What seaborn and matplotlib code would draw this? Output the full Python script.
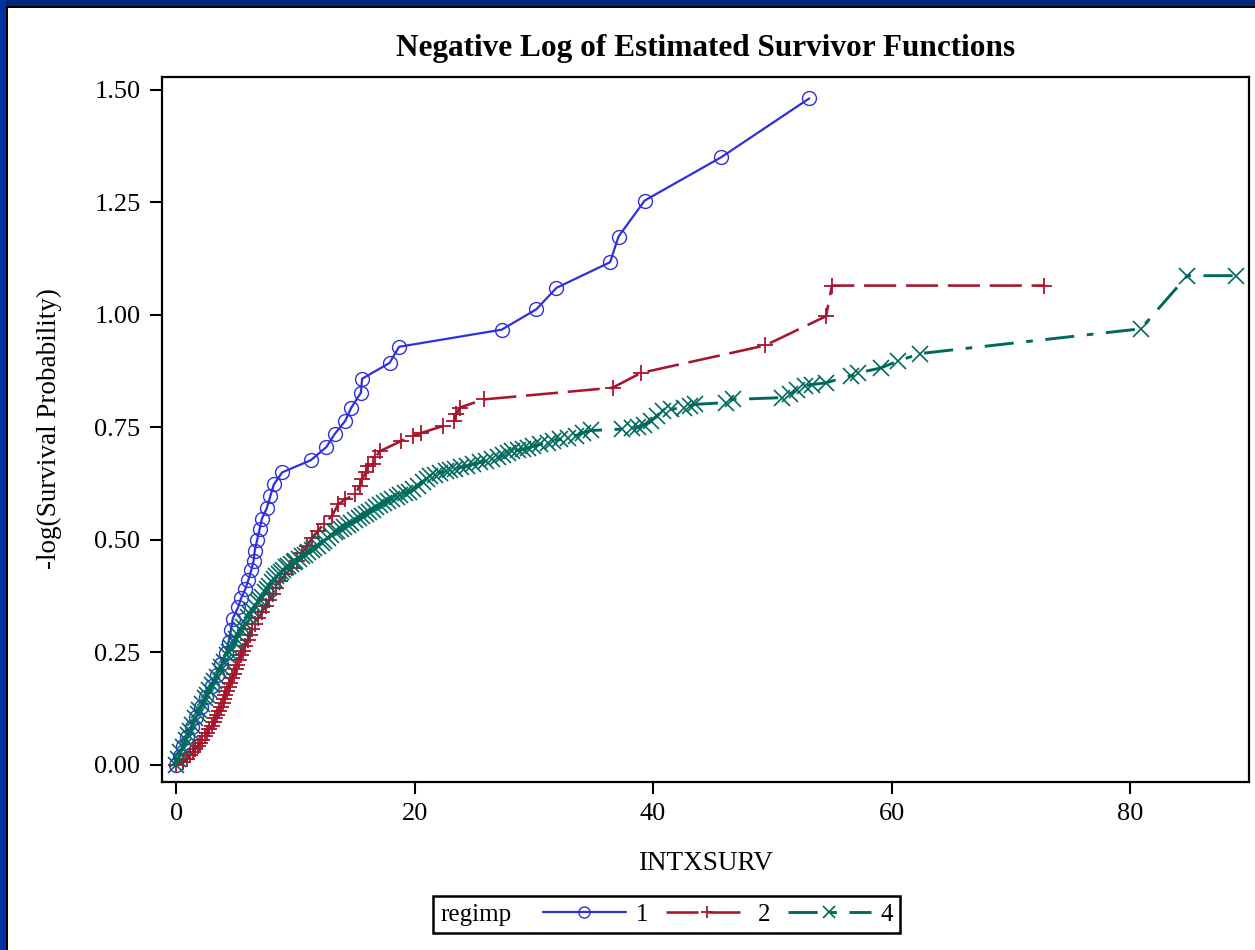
import numpy as np
import pandas as pd
import matplotlib
matplotlib.use("Agg")
import matplotlib.pyplot as plt
import seaborn as sns
from matplotlib.patches import Rectangle
from matplotlib.offsetbox import HPacker
from matplotlib.ticker import FormatStrFormatter

sns.set_style("white")
plt.rcParams['font.family'] = ['Liberation Serif', 'DejaVu Serif']
plt.rcParams['text.color'] = 'black'
plt.rcParams['axes.labelcolor'] = 'black'
plt.rcParams['xtick.color'] = 'black'
plt.rcParams['ytick.color'] = 'black'

# ---------------- data ----------------
groups = ["1", "2", "4"]

x1 = [0.0, 0.3, 0.6, 0.95, 1.3, 1.7, 2.1, 2.5, 3.0, 3.4, 3.8, 4.2, 4.4, 4.6,
      4.75, 5.2, 5.45, 5.8, 6.05, 6.3, 6.5, 6.6, 6.8, 7.0, 7.2, 7.6, 7.9, 8.2,
      8.9, 11.3, 12.6, 13.3, 14.2, 14.7, 15.5, 15.6, 17.9, 18.7, 27.3, 30.2,
      31.9, 36.4, 37.1, 39.3, 45.7, 53.1]
y1 = [0.0, 0.02, 0.041, 0.062, 0.084, 0.106, 0.128, 0.151, 0.175, 0.199, 0.223,
      0.248, 0.273, 0.299, 0.325, 0.35, 0.37, 0.39, 0.41, 0.432, 0.453, 0.476,
      0.50, 0.523, 0.547, 0.57, 0.597, 0.623, 0.65, 0.677, 0.706, 0.735, 0.765,
      0.794, 0.827, 0.858, 0.893, 0.929, 0.967, 1.012, 1.06, 1.117, 1.174, 1.254,
      1.35, 1.481]

x2 = [0.0, 0.6, 0.9, 1.2, 1.4, 1.6, 1.8, 2.0, 2.2, 2.4, 2.6, 2.8, 3.0, 3.15, 3.3,
      3.45, 3.6, 3.75, 3.9, 4.0, 4.1, 4.25, 4.4, 4.55, 4.7, 4.85, 5.0, 5.15, 5.3,
      5.45, 5.6, 5.8, 6.0, 6.2, 6.4, 6.65, 6.9, 7.2, 7.5, 7.8, 8.1, 8.4, 8.7,
      9.15, 9.7, 10.1, 10.55, 11.0, 11.4, 11.9, 12.4, 13.07, 13.6, 14.2, 15.0,
      15.4, 15.6, 15.9, 16.1, 16.5, 16.7, 17.1, 18.9, 19.9, 20.5, 22.4, 23.3,
      23.5, 23.8, 25.8, 36.6, 39.0, 49.4, 54.5, 55.0, 72.8]
y2 = [0.0, 0.007, 0.014, 0.021, 0.028, 0.035, 0.042, 0.049, 0.056, 0.064, 0.071,
      0.079, 0.087, 0.095, 0.103, 0.111, 0.119, 0.128, 0.137, 0.146, 0.155, 0.164,
      0.173, 0.182, 0.192, 0.202, 0.212, 0.222, 0.232, 0.243, 0.254, 0.265, 0.277,
      0.289, 0.301, 0.313, 0.326, 0.339, 0.352, 0.366, 0.38, 0.394, 0.408, 0.423,
      0.438, 0.454, 0.47, 0.487, 0.504, 0.52, 0.536, 0.553, 0.579, 0.59, 0.601,
      0.62, 0.635, 0.65, 0.664, 0.668, 0.683, 0.697, 0.72, 0.731, 0.737, 0.753,
      0.764, 0.779, 0.794, 0.812, 0.838, 0.871, 0.932, 0.997, 1.065, 1.065]

x4 = [0.0, 0.15, 0.35, 0.55, 0.8, 1.0, 1.15, 1.35, 1.6, 1.8, 1.95, 2.2, 2.45,
      2.6, 2.8, 3.05, 3.2, 3.4, 3.65, 3.8, 4.0, 4.25, 4.4, 4.6, 4.85, 5.0, 5.2,
      5.45, 5.6, 5.8, 6.05, 6.2, 6.4, 6.6, 6.85, 7.0, 7.2, 7.45, 7.6, 7.8, 8.05,
      8.2, 8.4, 8.65, 8.8, 9.0, 9.25, 9.4, 9.6, 9.85, 10.0, 10.3, 10.6, 10.8,
      11.1, 11.4, 11.6, 11.9, 12.2, 12.4, 12.7, 13.0, 13.3, 13.5, 13.8, 14.1,
      14.4, 14.7, 15.0, 15.3, 15.6, 15.9, 16.2, 16.5, 16.8, 17.1, 17.4, 17.8,
      18.1, 18.5, 18.8, 19.2, 19.5, 19.9, 20.3, 20.7, 21.0, 21.3, 21.7, 22.1,
      22.6, 23.0, 23.4, 23.9, 24.4, 24.9, 25.5, 26.0, 26.5, 27.0, 27.4, 27.8,
      28.2, 28.7, 29.1, 29.5, 29.9, 30.5, 31.2, 31.6, 32.2, 32.9, 33.5, 34.1,
      34.8, 37.4, 38.2, 38.7, 39.2, 39.8, 40.3, 40.8, 41.5, 42.6, 43.1, 43.5,
      46.1, 46.7, 50.8, 51.5, 52.1, 52.7, 53.3, 54.5, 56.6, 57.2, 59.1, 60.5,
      62.4, 80.9, 84.8, 88.9]
y4 = [0.0, 0.012, 0.028, 0.04, 0.055, 0.066, 0.075, 0.089, 0.103, 0.114, 0.122,
      0.135, 0.148, 0.156, 0.166, 0.178, 0.186, 0.195, 0.209, 0.217, 0.229,
      0.243, 0.25, 0.26, 0.272, 0.28, 0.289, 0.3, 0.307, 0.316, 0.328, 0.335,
      0.344, 0.352, 0.362, 0.367, 0.374, 0.384, 0.391, 0.398, 0.407, 0.412,
      0.419, 0.425, 0.429, 0.434, 0.439, 0.442, 0.446, 0.451, 0.454, 0.458,
      0.463, 0.467, 0.472, 0.477, 0.481, 0.487, 0.494, 0.498, 0.504, 0.51, 0.517,
      0.52, 0.524, 0.528, 0.533, 0.538, 0.543, 0.548, 0.552, 0.557, 0.561, 0.566,
      0.572, 0.578, 0.582, 0.587, 0.591, 0.595, 0.599, 0.603, 0.607, 0.612, 0.62,
      0.629, 0.636, 0.642, 0.645, 0.649, 0.652, 0.655, 0.658, 0.661, 0.664,
      0.668, 0.672, 0.676, 0.68, 0.683, 0.688, 0.694, 0.697, 0.699, 0.701, 0.704,
      0.708, 0.712, 0.716, 0.72, 0.723, 0.727, 0.731, 0.738, 0.743, 0.746, 0.748,
      0.75, 0.755, 0.764, 0.775, 0.786, 0.79, 0.794, 0.797, 0.801, 0.805, 0.812,
      0.816, 0.825, 0.832, 0.842, 0.845, 0.849, 0.865, 0.871, 0.882, 0.897,
      0.914, 0.969, 1.087, 1.087]

colors = ["#2f2fdc", "#a8142c", "#00695e"]
markers = ["o", "+", "x"]
dash_styles = ["", (12.5, 3.8), (10.0, 4.3, 2.3, 4.3)]
line_widths = [1.6, 1.85, 2.1]
marker_sizes = [10, 11, 11]
marker_edges = [1.0, 1.3, 1.2]

df = pd.concat([
    pd.DataFrame({"INTXSURV": x1, "nlogS": y1, "regimp": "1"}),
    pd.DataFrame({"INTXSURV": x2, "nlogS": y2, "regimp": "2"}),
    pd.DataFrame({"INTXSURV": x4, "nlogS": y4, "regimp": "4"}),
], ignore_index=True)

# ---------------- figure ----------------
W, H = 1255, 950
fig = plt.figure(figsize=(W / 100, H / 100), dpi=100)
fig.patch.set_facecolor("white")

# SAS-style window frame (top and left)
fig.add_artist(Rectangle((0, 1 - 6 / H), 1, 6 / H, transform=fig.transFigure,
                         facecolor="#00287d", edgecolor="none"))
fig.add_artist(Rectangle((0, 0), 6 / W, 1, transform=fig.transFigure,
                         facecolor="#0033a0", edgecolor="none"))
fig.add_artist(Rectangle((6 / W, 1 - 7.5 / H), 1, 1.5 / H, transform=fig.transFigure,
                         facecolor="black", edgecolor="none"))
fig.add_artist(Rectangle((6 / W, 0), 1.5 / W, 1 - 6 / H, transform=fig.transFigure,
                         facecolor="black", edgecolor="none"))

ax = fig.add_axes([162 / W, 1 - 781.5 / H, (1249 - 162) / W, (781.5 - 76.5) / H])

sns.lineplot(data=df, x="INTXSURV", y="nlogS", hue="regimp", style="regimp",
             hue_order=groups, style_order=groups,
             palette=dict(zip(groups, colors)),
             markers=False,
             dashes=dict(zip(groups, dash_styles)),
             estimator=None, sort=False, legend=False, ax=ax)

for line, lw, mk, ms, mw in zip(ax.lines, line_widths, markers, marker_sizes, marker_edges):
    line.set_linewidth(lw)
    line.set_marker(mk)
    line.set_markersize(ms)
    line.set_markeredgewidth(mw)
    line.set_markeredgecolor(line.get_color())
    line.set_markerfacecolor("none")

ax.set_xlim(-1.18, 89.97)
ax.set_ylim(-0.037, 1.5296)
ax.set_xticks([0, 20, 40, 60, 80])
ax.set_yticks([0, 0.25, 0.5, 0.75, 1.0, 1.25, 1.5])
ax.yaxis.set_major_formatter(FormatStrFormatter("%.2f"))
ax.tick_params(axis="both", direction="out", length=8.5, width=1.5, color="black",
               labelsize=19, pad=7, left=True, bottom=True, labelcolor="black")
for sp in ax.spines.values():
    sp.set_visible(True)
    sp.set_color("black")
    sp.set_linewidth(1.6)

ax.set_title("Negative Log of Estimated Survivor Functions", fontsize=22.5,
             fontweight="bold", pad=15, color="black")
ax.set_xlabel("INTXSURV", fontsize=19.5, labelpad=19)
ax.set_ylabel("-log(Survival Probability)", fontsize=19.5, labelpad=23)

leg = ax.legend(handles=list(ax.lines), labels=groups, title="regimp", ncol=3,
                loc="center", bbox_to_anchor=(666.5 / W, 1 - 914.5 / H),
                bbox_transform=fig.transFigure, fontsize=18, title_fontsize=18,
                frameon=True, fancybox=False, edgecolor="black", framealpha=1,
                handlelength=3.3, handletextpad=0.4, columnspacing=0.7,
                borderpad=0.28, markerscale=0.8)
leg.get_frame().set_linewidth(1.8)

# put the legend title on the left of the entries (SAS style)
try:
    fs = leg._fontsize
    new_box = HPacker(pad=leg.borderpad * fs, sep=23, align="center",
                      children=[leg._legend_title_box, leg._legend_handle_box])
    new_box.set_figure(fig)
    new_box.axes = ax
    new_box.set_offset(leg._findoffset)
    leg._legend_box = new_box
except Exception:
    pass

fig.savefig("out.png", dpi=100, facecolor="white")
